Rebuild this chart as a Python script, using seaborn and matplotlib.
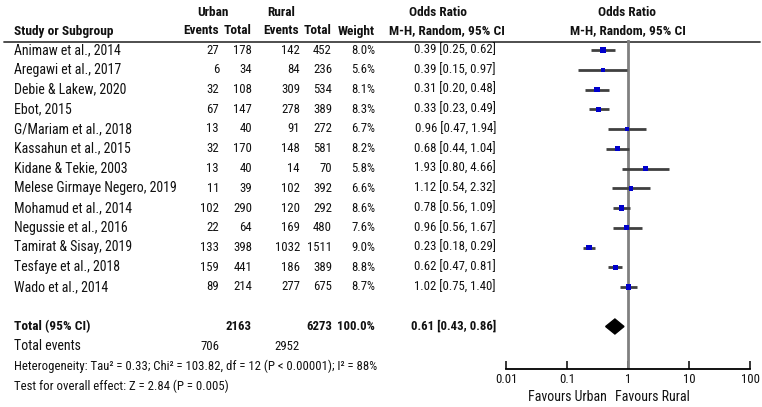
import numpy as np
import pandas as pd
import matplotlib
matplotlib.use("Agg")
import matplotlib.pyplot as plt
import seaborn as sns

# data
studies = ["Animaw et al., 2014", "Aregawi et al., 2017", "Debie & Lakew, 2020",
           "Ebot, 2015", "G/Mariam et al., 2018", "Kassahun et al., 2015",
           "Kidane & Tekie, 2003", "Melese Girmaye Negero, 2019", "Mohamud et al., 2014",
           "Negussie et al., 2016", "Tamirat & Sisay, 2019", "Tesfaye et al., 2018",
           "Wado et al., 2014"]
urban_events = [27, 6, 32, 67, 13, 32, 13, 11, 102, 22, 133, 159, 89]
urban_total = [178, 34, 108, 147, 40, 170, 40, 39, 290, 64, 398, 441, 214]
rural_events = [142, 84, 309, 278, 91, 148, 14, 102, 120, 169, 1032, 186, 277]
rural_total = [452, 236, 534, 389, 272, 581, 70, 392, 292, 480, 1511, 389, 675]
weight = [8.0, 5.6, 8.1, 8.3, 6.7, 8.2, 5.8, 6.6, 8.6, 7.6, 9.0, 8.8, 8.7]
odds = [0.39, 0.39, 0.31, 0.33, 0.96, 0.68, 1.93, 1.12, 0.78, 0.96, 0.23, 0.62, 1.02]
ci_low = [0.25, 0.15, 0.20, 0.23, 0.47, 0.44, 0.80, 0.54, 0.56, 0.56, 0.18, 0.47, 0.75]
ci_high = [0.62, 0.97, 0.48, 0.49, 1.94, 1.04, 4.66, 2.32, 1.09, 1.67, 0.29, 0.81, 1.40]

pooled = (0.61, 0.43, 0.86)
total_urban, total_rural = 2163, 6273
events_urban, events_rural = 706, 2952
ticks = [0.01, 0.1, 1, 10, 100]

df = pd.DataFrame({"study": studies, "or": odds, "lo": ci_low, "hi": ci_high,
                   "weight": weight, "row": np.arange(len(studies))})

sns.set_style("white")
plt.rcParams["font.family"] = ["Liberation Sans Narrow", "Roboto Condensed",
                               "Liberation Sans", "DejaVu Sans"]
FS = 10       # study names, labels
FS_NUM = 9.2  # numeric columns
FS_HEAD = 9.6

W, H = 762, 407
fig = plt.figure(figsize=(W / 100, H / 100), dpi=100)

# text layer in pixel coordinates
tx = fig.add_axes([0, 0, 1, 1])
tx.set_xlim(0, W)
tx.set_ylim(H, 0)
tx.axis("off")

row_y0, row_dy = 50, 19.75


def ypix(r):
    return row_y0 + row_dy * r


def txt(x, y, s, ha="right", bold=False, size=FS_NUM):
    tx.text(x, y, s, ha=ha, va="center", fontsize=size, color="#111111",
            fontweight="bold" if bold else "normal")


# headers
txt(213, 12, "Urban", "center", True, FS_HEAD)
txt(281, 12, "Rural", "center", True, FS_HEAD)
txt(438, 12, "Odds Ratio", "center", True, FS_HEAD)
txt(627, 12, "Odds Ratio", "center", True, FS_HEAD)
txt(14, 31, "Study or Subgroup", "left", True, FS_HEAD)
txt(219, 31, "Events", "right", True, FS_HEAD)
txt(252, 31, "Total", "right", True, FS_HEAD)
txt(299, 31, "Events", "right", True, FS_HEAD)
txt(332, 31, "Total", "right", True, FS_HEAD)
txt(375, 31, "Weight", "right", True, FS_HEAD)
txt(447, 31, "M-H, Random, 95% CI", "center", True, FS_HEAD)
txt(628, 31, "M-H, Random, 95% CI", "center", True, FS_HEAD)
tx.plot([4, 760], [42, 42], color="#404040", lw=1.3)

for i, s in enumerate(studies):
    y = ypix(i)
    txt(14, y, s, "left", size=FS)
    txt(219, y, str(urban_events[i]))
    txt(252, y, str(urban_total[i]))
    txt(300, y, str(rural_events[i]))
    txt(332, y, str(rural_total[i]))
    txt(375, y, f"{weight[i]:.1f}%")
    txt(496, y, f"{odds[i]:.2f} [{ci_low[i]:.2f}, {ci_high[i]:.2f}]")

yt = ypix(14)
txt(14, yt, "Total (95% CI)", "left", True, FS_HEAD)
txt(252, yt, str(total_urban), bold=True)
txt(332, yt, str(total_rural), bold=True)
txt(375, yt, "100.0%", bold=True)
txt(496, yt, f"{pooled[0]:.2f} [{pooled[1]:.2f}, {pooled[2]:.2f}]", bold=True)
txt(14, ypix(15), "Total events", "left", size=FS)
txt(219, ypix(15), str(events_urban))
txt(300, ypix(15), str(events_rural))
txt(14, 366, "Heterogeneity: Tau\u00b2 = 0.33; Chi\u00b2 = 103.82, df = 12 (P < 0.00001); I\u00b2 = 88%", "left")
txt(14, 386, "Test for overall effect: Z = 2.84 (P = 0.005)", "left")
txt(607, 397, "Favours Urban", size=FS)
txt(615, 397, "Favours Rural", "left", size=FS)

# forest panel
x0, x1, ytop, ybot = 506, 750, 40, 369
ax = fig.add_axes([x0 / W, 1 - ybot / H, (x1 - x0) / W, (ybot - ytop) / H])
ax.patch.set_alpha(0)
ax.set_xscale("log")
ax.set_xlim(ticks[0], ticks[-1])
ax.set_ylim((ybot - row_y0) / row_dy, (ytop - row_y0) / row_dy)
ax.axvline(1, color="#808080", lw=2, zorder=1)
ax.hlines(df["row"], df["lo"], df["hi"], color="#404040", lw=2, zorder=2)
sns.scatterplot(data=df, x="or", y="row", size="weight", sizes=(10, 16),
                marker="s", color="#0000cc", edgecolor="none", legend=False,
                ax=ax, zorder=3)

# pooled diamond
pr = 14
dh = 7.5 / row_dy
ax.fill([pooled[1], pooled[0], pooled[2], pooled[0]],
        [pr, pr - dh, pr, pr + dh], color="black", zorder=3)

for sp in ["top", "right", "left"]:
    ax.spines[sp].set_visible(False)
ax.spines["bottom"].set_color("black")
ax.spines["bottom"].set_linewidth(1.3)
ax.set_xticks(ticks)
ax.set_xticklabels(["0.01", "0.1", "1", "10", "100"], fontsize=FS_NUM, color="#111111")
ax.xaxis.set_minor_locator(matplotlib.ticker.NullLocator())
ax.tick_params(axis="x", direction="in", length=6, width=1.3, pad=3, bottom=True)
ax.set_yticks([])
ax.set_xlabel("")
ax.set_ylabel("")

fig.savefig("out.png", dpi=100)
